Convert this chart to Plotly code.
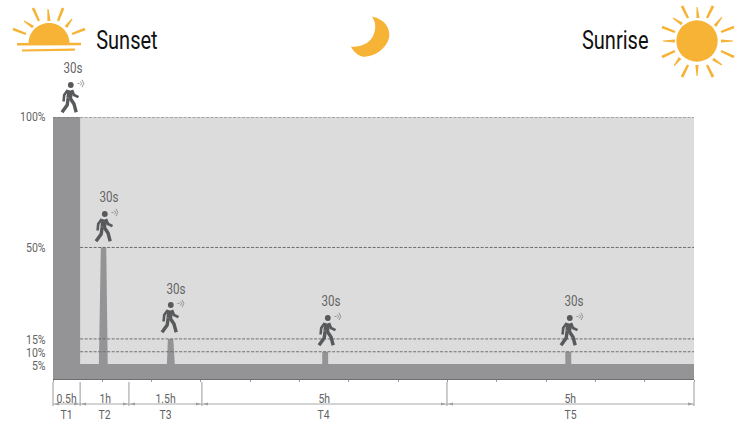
import math
import plotly.graph_objects as go

# ---- data ----
level_hours = [0, 0, 0.55, 0.55, 0.93, 0.97, 1.08, 1.11, 2.31, 2.33, 2.44, 2.47,
               5.46, 5.46, 5.58, 5.58, 10.39, 10.39, 10.51, 10.51, 13]
level_percent = [0, 100, 100, 5.7, 5.7, 50.2, 50.2, 5.7, 5.7, 15.3, 15.3, 5.7,
                 5.7, 10.4, 10.4, 5.7, 5.7, 10.4, 10.4, 5.7, 5.7]
dash_levels = [100, 50.2, 15.3, 10.4]
dash_starts = [0, 0.55, 0.55, 0.55]
tick_percent = [100, 50, 15, 10, 5]
tick_labels = ["100%", "50%", "15%", "10%", "5%"]
segment_edges = [0, 0.55, 1.54, 3.02, 7.99, 13]
segment_durations = ["0.5h", "1h", "1.5h", "5h", "5h"]
segment_names = ["T1", "T2", "T3", "T4", "T5"]
hour_ticks = list(range(0, 14))
pulse_label = "30s"

# ---- layout constants ----
W, H = 745, 421
L, R, T, B = 53, 51, 117, 42
AREA = "#949496"
BG = "#dcdcdc"
SUN = "#f6b336"
DARK = "#58595b"
TXT = "#636365"
FONT = "Roboto, Arial, sans-serif"

def px(x):
    return (x - L) / (W - L - R)

def py(y):
    return 1 - (y - T) / (H - T - B)

def xh(h):
    return L + h * (W - L - R) / 13

shapes, annos = [], []

def path(d_points, color=None, width=0, fill=None, close=False):
    d = "M " + " L ".join(f"{px(a):.5f},{py(b):.5f}" for a, b in d_points)
    if close:
        d += " Z"
    shapes.append(dict(type="path", xref="paper", yref="paper", path=d,
                       line=dict(color=color or "rgba(0,0,0,0)", width=width),
                       fillcolor=fill or "rgba(0,0,0,0)", layer="above"))

def circle(cx, cy, r, fill):
    shapes.append(dict(type="circle", xref="paper", yref="paper",
                       x0=px(cx - r), x1=px(cx + r), y0=py(cy + r), y1=py(cy - r),
                       fillcolor=fill, line=dict(width=0), layer="above"))

def text(x, y, s, size, color=TXT):
    annos.append(dict(xref="paper", yref="paper", x=px(x), y=py(y), text=s, showarrow=False,
                      xanchor="center", yanchor="middle", borderpad=0,
                      font=dict(size=size, color=color, family=FONT)))

def ray(x0, y0, x1, y1, w0=3.4, w1=1.0):
    dx, dy = x1 - x0, y1 - y0
    n = (dx * dx + dy * dy) ** 0.5
    ox, oy = -dy / n, dx / n
    path([(x0 + ox * w0 / 2, y0 + oy * w0 / 2), (x1 + ox * w1 / 2, y1 + oy * w1 / 2),
          (x1 - ox * w1 / 2, y1 - oy * w1 / 2), (x0 - ox * w0 / 2, y0 - oy * w0 / 2)],
         fill=SUN, close=True)

def walker(x, y):
    def P(pts, w):
        path([(x + a, y + b) for a, b in pts], color=DARK, width=w)
    circle(x + 9.8, y + 3, 2.9, DARK)
    P([(9.4, 8.5), (8.2, 16)], 5.8)
    P([(6.8, 8), (3.2, 13), (2.6, 19.5)], 2.6)
    P([(11, 8), (13, 13), (17.5, 15.2)], 2.6)
    P([(9, 16), (13, 22), (15.2, 30.3)], 3.4)
    P([(7.2, 16), (6.2, 23), (1, 30.3)], 3.4)
    G = "#8a8a8c"
    P2 = lambda pts: path([(x + a, y + b) for a, b in pts], color=G, width=0.9)
    P2([(16.5, 1.5), (18.5, 1.5)])
    P2([(19.4, -0.4), (20.6, 1.5), (19.4, 3.4)])
    P2([(21, -2.2), (22.8, 1.5), (21, 5.2)])

# ---- sunset icon ----
arc = [(28.5, 43.5)]
for i in range(0, 37):
    a = math.pi - i * math.pi / 36
    arc.append((49 + 20.5 * math.cos(a), 43.5 - 20.5 * math.sin(a)))
path(arc, fill=SUN, close=True)
ray(17, 44.3, 81, 44, 2.4, 2.4)
ray(22, 50.5, 75, 49.7, 2.2, 2.2)
for r in [(33, 8, 39, 21), (63, 8, 58, 21), (13, 29, 26, 34), (85, 29, 72, 34)]:
    ray(*r, 2.8, 2.2)
for r in [(48, 9, 49, 21), (24, 21, 33, 27), (72, 19, 66, 27)]:
    ray(*r, 1.2, 3.2)

# ---- moon ----
def pt(a, b):
    return f"{px(a):.5f},{py(b):.5f}"
moon = (f"M {pt(372,16.5)} C {pt(385,19)} {pt(391,29)} {pt(389,38)} C {pt(386,50)} {pt(372,58)} {pt(362,56.5)} "
        f"C {pt(357,55)} {pt(353,51)} {pt(351,46.5)} C {pt(359,47.5)} {pt(368,44.5)} {pt(372.5,37)} "
        f"C {pt(376.5,30)} {pt(376,22)} {pt(372,16.5)} Z")
shapes.append(dict(type="path", xref="paper", yref="paper", path=moon, fillcolor=SUN, line=dict(width=0)))

# ---- sunrise icon ----
circle(697, 41, 20.7, SUN)
for r in [(682, 6, 688, 18), (713, 6, 707, 18), (734, 27, 721, 32), (734, 57, 721, 51),
          (713, 77, 707, 65), (682, 77, 688, 65), (662, 57, 675, 51), (662, 27, 675, 32)]:
    ray(*r, 2.8, 2.4)
for r in [(697, 7, 698, 18), (733, 41, 721, 41), (697, 76, 697, 65), (663, 41, 675, 41),
          (673, 18, 682, 24), (722, 17, 715, 26), (722, 65, 713, 59), (674, 66, 680, 58)]:
    ray(*r, 1.0, 3.2)

text(126.5, 40, "Sunset", 26, "#111111")
text(615, 40, "Sunrise", 26, "#111111")

# ---- walkers and 30s labels ----
for wx, wy, lx, ly in [(61, 82, 73, 69), (95, 211, 108.5, 197), (161, 302, 175.5, 289),
                       (318, 315, 331, 301), (560, 315, 574, 301)]:
    walker(wx, wy)
    text(lx, ly, pulse_label, 14.5)

# ---- dimension lines below the plot ----
DIM = "#9a9a9c"
for e in segment_edges:
    path([(xh(e), 382), (xh(e), 406)], color=DIM, width=1)
path([(xh(0), 404), (xh(13), 404)], color="#a8a8aa", width=1)
for a, b in zip(segment_edges[:-1], segment_edges[1:]):
    xa, xb = xh(a), xh(b)
    path([(xa + 1, 404), (xa + 6, 402.6), (xa + 6, 405.4)], fill="#a0a0a2", close=True)
    path([(xb - 1, 404), (xb - 6, 402.6), (xb - 6, 405.4)], fill="#a0a0a2", close=True)
for a, b, d, n in zip(segment_edges[:-1], segment_edges[1:], segment_durations, segment_names):
    c = (xh(a) + xh(b)) / 2
    text(c, 398, d, 13)
    text(c, 414.5, n, 13)

fig = go.Figure()
fig.add_trace(go.Scatter(x=level_hours, y=level_percent, mode="lines", fill="tozeroy",
                         fillcolor=AREA, line=dict(color=AREA, width=0), hoverinfo="skip"))
for lv, st in zip(dash_levels, dash_starts):
    fig.add_trace(go.Scatter(x=[st, 13], y=[lv, lv], mode="lines",
                             line=dict(color="#6f6f71", width=1, dash="3px,1.5px"), hoverinfo="skip"))

fig.update_layout(
    width=W, height=H, margin=dict(l=L, r=R, t=T, b=B), autosize=False,
    showlegend=False, paper_bgcolor="white", plot_bgcolor=BG,
    shapes=shapes, annotations=annos,
    xaxis=dict(range=[0, 13], tickvals=hour_ticks, ticktext=[""] * len(hour_ticks), ticks="outside",
               ticklen=2, tickcolor="#9a9a9c", showgrid=False, zeroline=False,
               showline=True, linecolor="#6e6e70", linewidth=1),
    yaxis=dict(range=[0, 100], tickvals=tick_percent, ticktext=tick_labels, ticks="outside",
               ticklen=4, tickcolor="rgba(0,0,0,0)", showgrid=False, zeroline=False,
               tickfont=dict(family=FONT, size=12, color=TXT)),
)

# The reference's lettering is a condensed face; narrow the installed font to match.
narrow_js = """
document.body.style.margin='0';
var gd=document.getElementById('{plot_id}');
function narrow(){
  gd.querySelectorAll('.annotation-text, .ytick text').forEach(function(el){
    if(el.dataset.narrowed) return;
    var s = el.closest('.ytick') ? 0.88 : (el.textContent.indexOf('Sun')===0 ? 0.77 : 0.8);
    var w = el.getComputedTextLength();
    if(!w) return;
    el.setAttribute('textLength', (w*s).toFixed(1));
    el.setAttribute('lengthAdjust','spacingAndGlyphs');
    el.dataset.narrowed='1';
  });
}
narrow(); setTimeout(narrow,50); gd.on('plotly_afterplot',function(){setTimeout(narrow,0);});
"""
fig.write_html("out.html", post_script=narrow_js, config=dict(displayModeBar=False))
